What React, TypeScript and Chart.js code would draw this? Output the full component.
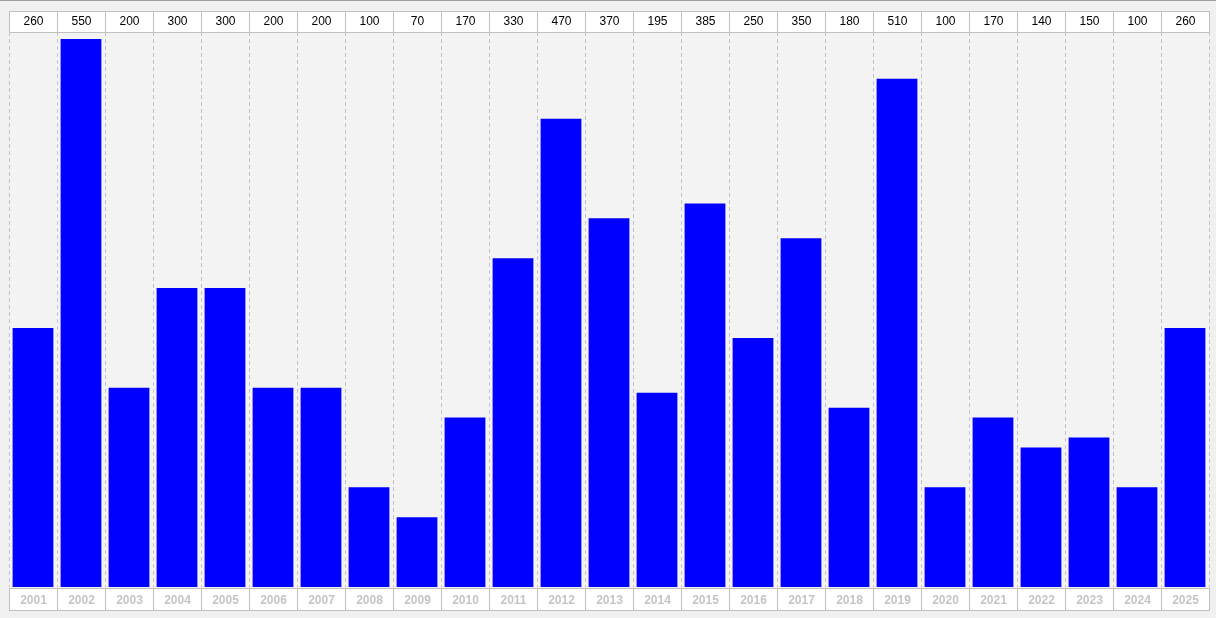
import React, { useEffect, useRef } from "react";
import { Chart, registerables } from "chart.js";

Chart.register(...registerables);

const years: string[] = [
  "2001", "2002", "2003", "2004", "2005", "2006", "2007", "2008", "2009", "2010",
  "2011", "2012", "2013", "2014", "2015", "2016", "2017", "2018", "2019", "2020",
  "2021", "2022", "2023", "2024", "2025",
];
const values: number[] = [
  260, 550, 200, 300, 300, 200, 200, 100, 70, 170,
  330, 470, 370, 195, 385, 250, 350, 180, 510, 100,
  170, 140, 150, 100, 260,
];
const yMax = 557;

function columnBounds(chart: any): number[] {
  const { chartArea } = chart;
  const x = chart.scales.x;
  const n = years.length;
  const bounds: number[] = [chartArea.left];
  for (let i = 0; i < n - 1; i++) {
    bounds.push((x.getPixelForValue(i) + x.getPixelForValue(i + 1)) / 2);
  }
  bounds.push(chartArea.right);
  return bounds;
}

const framePlugin = {
  id: "framePlugin",
  beforeDraw(chart: any) {
    const { ctx, chartArea, width, height } = chart;
    ctx.save();
    ctx.fillStyle = "#f0f0f0";
    ctx.fillRect(0, 0, width, height);
    ctx.fillStyle = "#a0a0a0";
    ctx.fillRect(0, 0, width, 1);
    ctx.fillStyle = "#f3f3f3";
    ctx.fillRect(chartArea.left, chartArea.top, chartArea.right - chartArea.left, chartArea.bottom - chartArea.top);
    const bounds = columnBounds(chart);
    ctx.strokeStyle = "#c4c4c4";
    ctx.lineWidth = 1;
    ctx.setLineDash([4, 3]);
    for (const b of bounds) {
      const px = Math.round(b) + 0.5;
      ctx.beginPath();
      ctx.moveTo(px, chartArea.top);
      ctx.lineTo(px, chartArea.bottom);
      ctx.stroke();
    }
    ctx.restore();
  },
  afterDraw(chart: any) {
    const { ctx, chartArea } = chart;
    const n = years.length;
    const bounds = columnBounds(chart);
    ctx.save();
    ctx.setLineDash([]);
    ctx.lineWidth = 1;
    ctx.textAlign = "center";
    ctx.textBaseline = "middle";
    const topY = 11;
    const topH = chartArea.top - topY;
    const botY = chartArea.bottom + 1;
    const botH = 22;
    for (let i = 0; i < n; i++) {
      const l = Math.round(bounds[i]) + 0.5;
      const r = Math.round(bounds[i + 1]) + 0.5;
      const cx = (l + r) / 2;
      ctx.fillStyle = "#ffffff";
      ctx.fillRect(l, topY + 0.5, r - l, topH);
      ctx.fillRect(l, botY + 0.5, r - l, botH);
      ctx.strokeStyle = "#c0c0c0";
      ctx.strokeRect(l, topY + 0.5, r - l, topH);
      ctx.strokeRect(l, botY + 0.5, r - l, botH);
      ctx.fillStyle = "#000000";
      ctx.font = "12px 'Liberation Sans', Arial, sans-serif";
      ctx.fillText(String(values[i]), cx, topY + topH / 2);
      ctx.fillStyle = "#c4c4c4";
      ctx.font = "bold 12px 'Liberation Sans', Arial, sans-serif";
      ctx.fillText(years[i], cx, botY + botH / 2 + 1.5);
    }
    ctx.restore();
  },
};

export default function App() {
  const ref = useRef<HTMLCanvasElement | null>(null);
  useEffect(() => {
    if (!ref.current) return;
    const chart = new Chart(ref.current, {
      type: "bar",
      data: {
        labels: years,
        datasets: [
          {
            data: values,
            backgroundColor: "#0000ff",
            borderWidth: 0,
            barPercentage: 0.85,
            categoryPercentage: 1,
          },
        ],
      },
      options: {
        animation: false,
        responsive: false,
        maintainAspectRatio: false,
        layout: { padding: { left: 9, right: 7, top: 32, bottom: 31 } },
        plugins: { legend: { display: false }, tooltip: { enabled: false } },
        scales: {
          x: { display: false, offset: true },
          y: { display: false, min: 0, max: yMax },
        },
      },
      plugins: [framePlugin],
    });
    return () => chart.destroy();
  }, []);
  return (
    <div style={{ position: "absolute", left: 0, top: 0, width: 1216, height: 618 }}>
      <canvas ref={ref} width={1216} height={618} style={{ display: "block", width: 1216, height: 618 }} />
    </div>
  );
}
